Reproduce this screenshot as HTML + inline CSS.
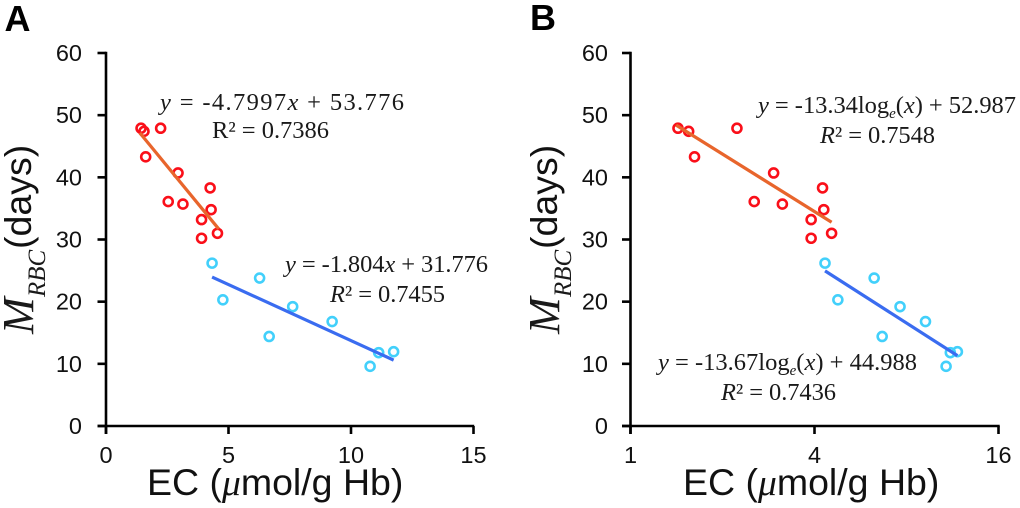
<!DOCTYPE html>
<html lang="en">
<head>
<meta charset="utf-8">
<title>MRBC versus EC</title>
<style>
html,body{margin:0;padding:0;background:#fff;width:1020px;height:508px;overflow:hidden}
svg{display:block;filter:blur(0.35px)}
.sans{font-family:"Liberation Sans",sans-serif;fill:#111}
.serif{font-family:"Liberation Serif",serif;fill:#1a1a1a}
.tick{font-size:23.5px}
.eq{font-size:24.5px}
.title{font-size:37.5px}
.i{font-style:italic}
</style>
</head>
<body>
<svg id="chart" xmlns="http://www.w3.org/2000/svg" width="1020" height="508" viewBox="0 0 1020 508">
  <text class="sans" x="4.5" y="31" font-size="36" font-weight="700" style="fill:#000">A</text>
  <text class="sans" x="530" y="30" font-size="36" font-weight="700" style="fill:#000">B</text>

  <g id="panel-a"></g>
  <g id="panel-b"></g>

  <g>
    <text class="serif i" transform="translate(33,334) rotate(-90)" font-size="44">M</text>
    <text class="serif i" transform="translate(45,297) rotate(-90)" font-size="25">RBC</text>
    <text class="sans" transform="translate(31,249) rotate(-90)" font-size="37.5">(days)</text>
  </g>
  <g>
    <text class="serif i" transform="translate(559,334) rotate(-90)" font-size="44">M</text>
    <text class="serif i" transform="translate(571,297) rotate(-90)" font-size="25">RBC</text>
    <text class="sans" transform="translate(557,249) rotate(-90)" font-size="37.5">(days)</text>
  </g>

  <text class="sans title" x="147" y="495">EC (<tspan class="i" font-family="Liberation Serif">μ</tspan>mol/g Hb)</text>
  <text class="sans title" x="683" y="495">EC (<tspan class="i" font-family="Liberation Serif">μ</tspan>mol/g Hb)</text>

  <text class="serif eq" x="160" y="110" textLength="244" lengthAdjust="spacing"><tspan class="i">y</tspan> = -4.7997<tspan class="i">x</tspan> + 53.776</text>
  <text class="serif eq" x="212" y="138" textLength="117" lengthAdjust="spacing">R² = 0.7386</text>
  <text class="serif eq" x="285" y="272" textLength="203" lengthAdjust="spacing"><tspan class="i">y</tspan> = -1.804<tspan class="i">x</tspan> + 31.776</text>
  <text class="serif eq" x="330" y="302" textLength="115" lengthAdjust="spacing"><tspan class="i">R</tspan>² = 0.7455</text>

  <text class="serif eq" x="758" y="113" textLength="258" lengthAdjust="spacing"><tspan class="i">y</tspan> = -13.34log<tspan class="i" font-size="15" dy="5">e</tspan><tspan dy="-5">(</tspan><tspan class="i">x</tspan>) + 52.987</text>
  <text class="serif eq" x="820" y="143" textLength="115" lengthAdjust="spacing"><tspan class="i">R</tspan>² = 0.7548</text>
  <text class="serif eq" x="658" y="370" textLength="259" lengthAdjust="spacing"><tspan class="i">y</tspan> = -13.67log<tspan class="i" font-size="15" dy="5">e</tspan><tspan dy="-5">(</tspan><tspan class="i">x</tspan>) + 44.988</text>
  <text class="serif eq" x="721" y="400" textLength="115" lengthAdjust="spacing"><tspan class="i">R</tspan>² = 0.7436</text>
</svg>
<script>
const redEC = [1.43, 1.55, 2.23, 1.62, 2.94, 4.25, 2.54, 3.14, 4.29, 3.9, 4.55, 3.9];
const redDays = [47.9, 47.4, 47.9, 43.3, 40.7, 38.3, 36.1, 35.7, 34.8, 33.2, 31.0, 30.2];
const blueEC = [4.33, 4.77, 6.27, 6.66, 7.62, 9.23, 10.78, 11.13, 11.74];
const blueDays = [26.2, 20.3, 23.8, 14.4, 19.2, 16.8, 9.6, 11.8, 11.95];
const yTicks = [0, 10, 20, 30, 40, 50, 60];
const xTicksLinear = [0, 5, 10, 15];
const xTicksLog = [1, 4, 16];
const fitARedCoef = [-4.7997, 53.776];
const fitABlueCoef = [-1.804, 31.776];
const fitBRedCoef = [-13.34, 52.987];
const fitBBlueCoef = [-13.67, 44.988];
const fitARedRange = [1.38, 4.6];
const fitABlueRange = [4.33, 11.74];
const fitBRedRange = [1.41, 4.55];
const fitBBlueRange = [4.33, 11.74];

const NS = 'http://www.w3.org/2000/svg';
const yScale = v => 426 - (v / 60) * 373;
const xScaleA = v => 106 + v * 24.5;
const xScaleB = v => 630.5 + Math.log2(v) * 92;

function make(parent, tag, attrs) {
  const el = document.createElementNS(NS, tag);
  for (const k in attrs) el.setAttribute(k, attrs[k]);
  parent.appendChild(el);
  return el;
}

function drawAxes(g, axisX, rightX, xScale, xTicks, labelRight) {
  const yAxis = make(g, 'line', {x1: axisX, x2: axisX, y1: yScale(60) - 1.2, y2: 434, stroke: '#000', 'stroke-width': 2.6});
  
  
  const xAxis = make(g, 'line', {x1: axisX - 8.5, x2: rightX + 1.2, y1: yScale(0), y2: yScale(0), stroke: '#000', 'stroke-width': 2.6});
  
  
  yTicks.forEach(t => {
    const py = yScale(t);
    const mark = make(g, 'line', {x1: axisX - 8.5, x2: axisX, y1: py, y2: py, stroke: '#000', 'stroke-width': 2.6});
    
    
    const lab = make(g, 'text', {x: labelRight, y: py + 8, 'text-anchor': 'end', class: 'sans tick'});
    
    
    lab.textContent = t;
  });
  xTicks.forEach(t => {
    const px = xScale(t);
    const mark = make(g, 'line', {x1: px, x2: px, y1: 426, y2: 434, stroke: '#000', 'stroke-width': 2.6});
    
    
    const lab = make(g, 'text', {x: px, y: 463, 'text-anchor': 'middle', class: 'sans tick'});
    
    
    lab.textContent = t;
  });
}

function drawPoints(g, xs, ys, xScale, color) {
  xs.forEach((x, i) => {
    const c = make(g, 'circle', {cx: xScale(x), cy: yScale(ys[i]), r: 4.5, fill: 'none', stroke: color, 'stroke-width': 2.6});
    
    
  });
}

function drawFit(g, range, fn, xScale, color) {
  const l = make(g, 'line', {x1: xScale(range[0]), y1: yScale(fn(range[0])), x2: xScale(range[1]), y2: yScale(fn(range[1])), stroke: color, 'stroke-width': 3.2});
  
  
}

const RED = '#fa0f19', ORANGE = '#e8652c', CYAN = '#42d0fb', BLUE = '#3a6cf0';
const pa = document.getElementById('panel-a');
const pb = document.getElementById('panel-b');

drawAxes(pa, 106, 473, xScaleA, xTicksLinear, 82);
drawPoints(pa, redEC, redDays, xScaleA, RED);
drawPoints(pa, blueEC, blueDays, xScaleA, CYAN);
drawFit(pa, fitARedRange, x => fitARedCoef[0] * x + fitARedCoef[1], xScaleA, ORANGE);
drawFit(pa, fitABlueRange, x => fitABlueCoef[0] * x + fitABlueCoef[1], xScaleA, BLUE);

drawAxes(pb, 630.5, 998.5, xScaleB, xTicksLog, 608);
drawPoints(pb, redEC, redDays, xScaleB, RED);
drawPoints(pb, blueEC, blueDays, xScaleB, CYAN);
drawFit(pb, fitBRedRange, x => fitBRedCoef[0] * Math.log(x) + fitBRedCoef[1], xScaleB, ORANGE);
drawFit(pb, fitBBlueRange, x => fitBBlueCoef[0] * Math.log(x) + fitBBlueCoef[1], xScaleB, BLUE);
</script>
</body>
</html>
